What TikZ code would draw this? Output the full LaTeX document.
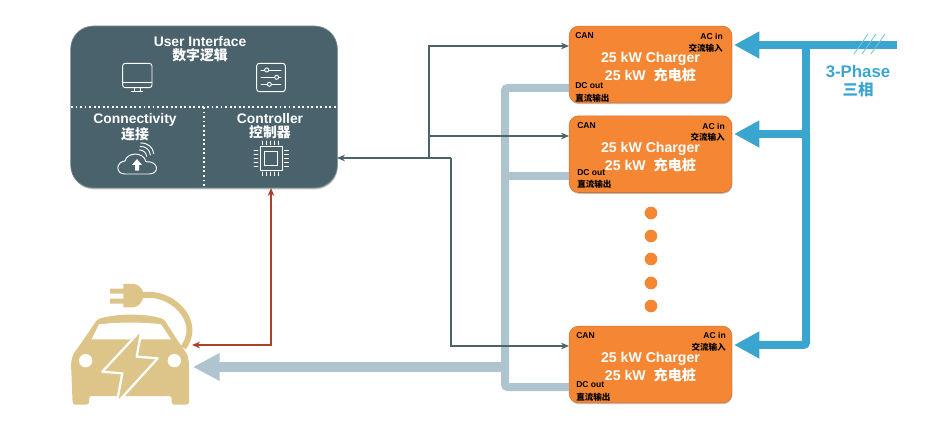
\documentclass[tikz,border=0pt]{standalone}
\usepackage{fontspec}
\setmainfont{Liberation Sans}
\newfontfamily\cjk{Noto Sans CJK SC}
\usetikzlibrary{arrows.meta, positioning, shadows}
\definecolor{panelgray}{RGB}{74,98,107}
\definecolor{chargerorange}{RGB}{245,134,52}
\definecolor{acblue}{RGB}{58,166,207}
\definecolor{dcgray}{RGB}{174,196,206}
\definecolor{cangray}{RGB}{77,99,108}
\definecolor{pilotred}{RGB}{168,67,42}
\definecolor{cartan}{RGB}{221,197,138}

\begin{document}
\begin{tikzpicture}[
  x=0.75pt, y=-0.75pt,
  panel/.style={draw=panelgray!70, fill=panelgray, rounded corners=17pt, minimum width=200pt,
                minimum height=121.5pt, inner sep=0pt, outer sep=0pt,
                drop shadow={shadow xshift=0.4pt, shadow yshift=-1pt, opacity=0.5}},
  charger/.style={draw=chargerorange!85!black, fill=chargerorange, rounded corners=7pt,
                  minimum width=122pt, minimum height=57.5pt, inner sep=0pt, outer sep=0pt,
                  drop shadow={shadow xshift=0.4pt, shadow yshift=-1pt, opacity=0.5}},
  chargertext/.style={align=center, text=white, inner sep=0pt,
                      font=\bfseries\fontsize{10.6}{13.5}\selectfont},
  paneltext/.style={text=white, align=center, inner sep=0pt,
                    font=\bfseries\fontsize{10.4}{10.5}\selectfont},
  porttext/.style={text=black, inner sep=0pt, font=\bfseries\fontsize{6.4}{7}\selectfont},
  divider/.style={white, line width=1.4pt, dotted},
  icon/.style={white, line width=0.7pt, line cap=round, line join=round},
  canarr/.style={-{Stealth[length=6pt,width=5pt]}, color=cangray, line width=1.4pt},
  pilotarr/.style={{Stealth[length=6pt,width=5pt]}-{Stealth[length=6pt,width=5pt]},
                   color=pilotred, line width=1.4pt},
  dcline/.style={color=dcgray, line width=6pt, rounded corners=2pt},
  dcarr/.style={-{Triangle[length=20pt,width=19.5pt]}, color=dcgray, line width=7.5pt},
  acline/.style={color=acblue, line width=6pt},
  acarr/.style={-{Triangle[length=19pt,width=19pt]}, color=acblue, line width=6pt, rounded corners=2pt},
  dotnode/.style={circle, fill=chargerorange, minimum size=9.5pt, inner sep=0pt}
]
  \useasboundingbox (0,0) rectangle (930,448);

  % control panel
  \node[panel] (panel) at (204,107) {};
  \draw[divider] (71,107) -- (337,107);
  \draw[divider] (204.3,107) -- (204.3,188);
  \node[paneltext] (uilabel) at (200,49) {User Interface\\{\cjk 数字逻辑}};
  \node[paneltext] (connlabel) at (135,127.5) {Connectivity\\{\cjk 连接}};
  \node[paneltext] (ctrllabel) at (270,126) {Controller\\{\cjk 控制器}};

  % monitor icon
  \begin{scope}[shift={(60,15)}, x=0.25pt, y=-0.25pt, icon]
    \draw[rounded corners=2pt] (188,145) rectangle (276,218);
    \draw (188,202) -- (276,202);
    \draw (223,218) -- (223,228) (240,218) -- (240,228) (215,228) -- (248,228);
  \end{scope}
  % sliders icon
  \begin{scope}[shift={(60,15)}, x=0.25pt, y=-0.25pt, icon]
    \draw[rounded corners=2pt] (590,145) rectangle (676,230);
    \draw (603,165) -- (663,165) (603,187) -- (663,187) (603,208) -- (663,208);
    \filldraw[fill=panelgray] (620,165) circle (6) (650,187) circle (6) (628,208) circle (6);
  \end{scope}
  % cloud icon
  \begin{scope}[shift={(60,15)}, x=0.25pt, y=-0.25pt, icon]
    \draw (195,477) .. controls (165,477) and (168,440) .. (195,438)
          .. controls (200,412) and (250,408) .. (258,440)
          .. controls (298,438) and (298,477) .. (268,477) -- cycle;
    \fill[white] (231,432) -- (246,450) -- (237,450) -- (237,467) -- (225,467) -- (225,450) -- (216,450) -- cycle;
    \draw (238,405) .. controls (250,405) and (258,412) .. (260,424);
    \draw (240,394) .. controls (258,394) and (270,405) .. (271,420);
    \draw (242,384) .. controls (265,384) and (280,398) .. (281,416);
  \end{scope}
  % chip icon
  \begin{scope}[shift={(60,15)}, x=0.25pt, y=-0.25pt, icon]
    \draw (600,395) rectangle (668,465);
    \draw (613,410) rectangle (652,450);
    \foreach \pin in {0,1,2,3,4}{
      \draw (608+\pin*12,378) -- (608+\pin*12,389);
      \draw (608+\pin*12,471) -- (608+\pin*12,482);
      \draw (582,406+\pin*12) -- (594,406+\pin*12);
      \draw (673,406+\pin*12) -- (685,406+\pin*12);
    }
  \end{scope}

  % chargers
  \node[charger] (charger1) at (650.5,64.5) {};
  \node[charger, below=9.75pt of charger1] (charger2) {};
  \node[charger] (charger3) at (650.5,364.5) {};
  \foreach \chargername in {charger1,charger2,charger3}
    \node[chargertext] (\chargername title) at ([yshift=-2.2pt]\chargername.center)
         {25 kW Charger\\25 kW\ \ {\cjk 充电桩}};

  \node[porttext, anchor=west] (can1) at (575,36) {CAN};
  \node[porttext, anchor=east] (acin1) at (723,36) {AC in};
  \node[porttext, anchor=east] (aczh1) at (723,48) {\cjk 交流输入};
  \node[porttext, anchor=west] (dcout1) at (575,86) {DC out};
  \node[porttext, anchor=west] (dczh1) at (575,98) {\cjk 直流输出};

  \node[porttext, anchor=west] (can2) at (577,126) {CAN};
  \node[porttext, anchor=east] (acin2) at (725,126) {AC in};
  \node[porttext, anchor=east] (aczh2) at (725,137) {\cjk 交流输入};
  \node[porttext, anchor=west] (dcout2) at (577,173) {DC out};
  \node[porttext, anchor=west] (dczh2) at (577,184) {\cjk 直流输出};

  \node[porttext, anchor=west] (can3) at (576,336) {CAN};
  \node[porttext, anchor=east] (acin3) at (726,335) {AC in};
  \node[porttext, anchor=east] (aczh3) at (726,347) {\cjk 交流输入};
  \node[porttext, anchor=west] (dcout3) at (576,385) {DC out};
  \node[porttext, anchor=west] (dczh3) at (576,397) {\cjk 直流输出};

  \foreach \dotname/\doty in {a/213,b/236,c/259,d/283,e/306}
    \node[dotnode] (dot\dotname) at (651,\doty) {};

  % car
  \begin{scope}[shift={(60,280)}, x=0.25pt, y=-0.25pt]
    \fill[cartan, rounded corners=2pt] (112,118) .. controls (170,100) and (260,100) .. (312,118)
      -- (352,180) -- (383,225) -- (387,250) -- (387,374) -- (335,374) -- (335,348)
      -- (87,348) -- (87,374) -- (38,374) -- (33,250) -- (38,225) -- (70,180) -- cycle;
    \fill[white] (117,133) .. controls (170,126) and (250,126) .. (303,133) -- (333,178) -- (95,178) -- cycle;
    \fill[white] (77,242) circle (20) (343,242) circle (20);
    \filldraw[fill=cartan, draw=white, line width=1.7pt, line join=round]
      (245,148) -- (127,275) -- (187,280) -- (170,370) -- (293,235) -- (230,230) -- cycle;
    \fill[cartan] (190,12) -- (222,12) .. controls (240,14) and (250,30) .. (250,45)
      .. controls (250,65) and (235,82) .. (220,82) -- (190,82) -- cycle;
    \fill[cartan] (150,26) rectangle (192,41) (150,56) rectangle (192,71);
    \draw[cartan, line width=4.5pt] (245,46) .. controls (330,30) and (430,120) .. (370,203);
  \end{scope}
  \coordinate (carpilot) at (192,345);
  \coordinate (cardc) at (193,367);

  % DC bus
  \coordinate (dc1) at (569,88);
  \coordinate (dc2) at (569,176);
  \coordinate (dc3) at (569,387);
  \coordinate (dcbus2) at (505,176);
  \coordinate (dcbus3) at (505,367);
  \draw[dcline] (dc1) -- (505,88) -- (505,387) -- (dc3);
  \draw[dcline] (dcbus2) -- (dc2);
  \draw[dcarr] (dcbus3) -- (cardc);

  % CAN bus
  \coordinate (panelport) at (337,158);
  \coordinate (canbus1) at (429,158);
  \coordinate (canbus2) at (451,158);
  \coordinate (canin1) at (569,46);
  \coordinate (canin2) at (569,136);
  \coordinate (canin3) at (569,346);
  \draw[canarr] (canbus2) -- (panelport);
  \draw[canarr] (canbus1) |- (canin1);
  \draw[canarr] (canbus1) |- (canin2);
  \draw[canarr] (canbus2) |- (canin3);

  % pilot line
  \coordinate (panelpilot) at (271,188);
  \draw[pilotarr] (panelpilot) |- (carpilot);

  % AC feed
  \coordinate (acsource) at (897,45);
  \coordinate (acbus1) at (806,45);
  \coordinate (acbus2) at (806,134);
  \coordinate (acbus3) at (806,345);
  \coordinate (acin1c) at (734,45);
  \coordinate (acin2c) at (734,134);
  \coordinate (acin3c) at (734,345);
  \draw[acline] (acbus1) -- (acbus2);
  \draw[acarr] (acsource) -- (acin1c);
  \draw[acarr] (acbus2) -- (acin2c);
  \draw[acarr] (acbus2) -- (acbus3) -- (acin3c);
  \foreach \hatch in {0,8,17}
    \draw[acblue!70, line width=0.6pt] (854+\hatch,54) -- (868+\hatch,34);

  \node[text=acblue, align=center, inner sep=0pt, font=\bfseries\fontsize{12.6}{13.5}\selectfont]
       (phase) at (858,81.5) {3-Phase\\{\cjk\fontsize{11.6}{13.5}\selectfont 三相}};
\end{tikzpicture}
\end{document}
